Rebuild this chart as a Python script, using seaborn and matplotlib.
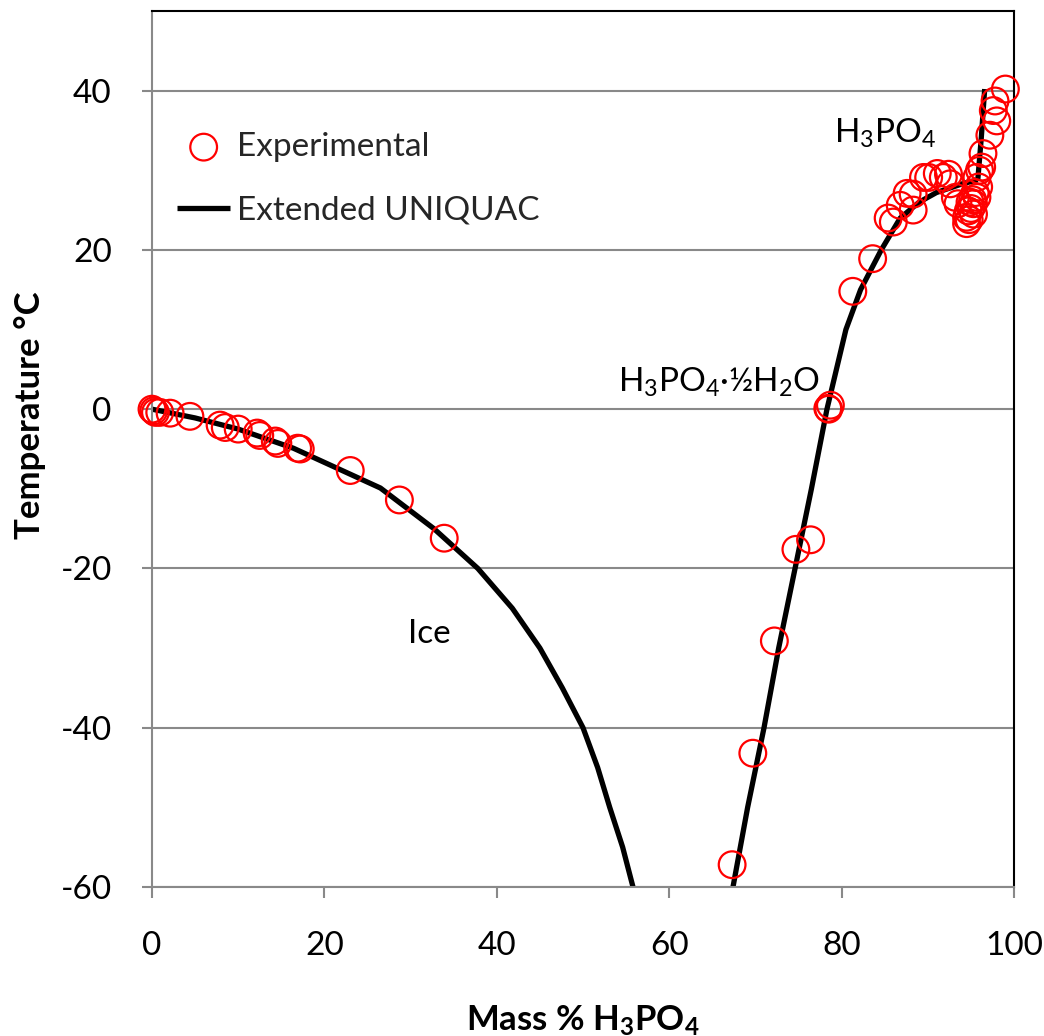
import matplotlib
matplotlib.use("Agg")
import matplotlib.pyplot as plt
import seaborn as sns
import pandas as pd

# ---------------- data ----------------
# Experimental points (mass % H3PO4, temperature °C)
exp_ice_x = [0.0, 0.2, 0.4, 0.9, 2.1, 4.4, 7.9, 8.5, 10.0, 12.2, 12.5, 14.3, 14.6, 16.9, 17.2, 23.0, 28.7, 33.9]
exp_ice_t = [0.0, -0.2, -0.4, -0.4, -0.5, -0.9, -2.0, -2.3, -2.5, -3.0, -3.3, -4.0, -4.3, -4.9, -5.0, -7.7, -11.4, -16.2]

exp_hemi_x = [67.3, 69.7, 72.2, 74.7, 76.4, 78.4, 78.7, 78.5, 81.3, 83.6, 85.4, 86.0, 86.8, 87.6,
              88.3, 88.3, 89.5, 90.1, 91.1, 91.8, 92.4, 92.6, 93.2, 93.5]
exp_hemi_t = [-57.2, -43.2, -29.1, -17.6, -16.4, 0.1, 0.5, 0.0, 14.8, 18.9, 24.0, 23.5, 25.6, 27.1,
              25.0, 27.0, 29.1, 29.1, 29.6, 29.1, 29.5, 28.3, 26.6, 25.8]

exp_h3po4_x = [94.5, 94.5, 94.7, 94.8, 94.9, 95.0, 95.2, 95.3, 95.3, 95.5, 95.7, 95.9, 95.7, 96.0,
               96.25, 96.4, 97.2, 98.0, 97.6, 97.8, 99.0]
exp_h3po4_t = [23.3, 24.1, 24.9, 23.8, 26.0, 25.2, 26.3, 24.5, 25.8, 27.2, 26.6, 27.9, 29.1, 30.0,
               30.4, 32.1, 34.4, 36.2, 37.5, 38.7, 40.2]

# Extended UNIQUAC model curves
ice_x = [0.0, 5.0, 10.0, 16.4, 26.5, 32.7, 37.8, 41.8, 45.0, 47.6, 50.0, 51.7, 53.1, 54.6, 55.8]
ice_t = [0.0, -1.1, -2.5, -4.9, -9.9, -15.0, -20.0, -25.0, -30.0, -35.0, -40.0, -45.0, -50.0, -55.0, -60.0]

hemi_x = [67.4, 69.1, 71.0, 72.7, 74.6, 76.5, 78.3, 80.5, 82.2, 84.6, 86.8, 89.0, 91.0, 94.0, 95.8]
hemi_t = [-60.0, -50.0, -40.0, -30.0, -20.0, -10.0, 0.0, 10.0, 15.0, 20.0, 24.0, 26.0, 27.2, 28.3, 28.8]

h3po4_x = [95.8, 96.2, 96.6]
h3po4_t = [28.8, 34.0, 40.2]

x_ticks = [0, 20, 40, 60, 80, 100]
y_ticks = [-60, -40, -20, 0, 20, 40]

# ---------------- style ----------------
sns.set_theme(style="white")
plt.rcParams["font.family"] = ["Lato", "DejaVu Sans"]
plt.rcParams["mathtext.default"] = "regular"

FS = 24
FS_LAB = 25
GRID = "#898989"

fig = plt.figure(figsize=(10.44, 10.36), dpi=100)
ax = fig.add_axes([152 / 1044, 1 - 887 / 1036, (1014 - 152) / 1044, (887 - 11) / 1036])

exp_df = pd.DataFrame({
    "x": exp_ice_x + exp_hemi_x + exp_h3po4_x,
    "t": exp_ice_t + exp_hemi_t + exp_h3po4_t,
})

for i, (lx, lt) in enumerate([(ice_x, ice_t), (hemi_x, hemi_t), (h3po4_x, h3po4_t)]):
    sns.lineplot(x=lx, y=lt, ax=ax, color="black", linewidth=3.8, sort=False,
                 estimator=None, label="Extended UNIQUAC" if i == 0 else None,
                 zorder=2, solid_capstyle="butt")

sns.scatterplot(data=exp_df, x="x", y="t", ax=ax, marker="o", s=370,
                facecolor="none", edgecolor="#ff0000", linewidth=1.6,
                label="Experimental", zorder=3, clip_on=False)

ax.set_xlim(0, 100)
ax.set_ylim(-60, 50)
ax.set_xticks(x_ticks)
ax.set_yticks(y_ticks)
ax.set_xticklabels([str(v) for v in x_ticks], fontsize=FS)
ax.set_yticklabels([str(v) for v in y_ticks], fontsize=FS)

ax.yaxis.grid(True, color=GRID, linewidth=1.5)
ax.xaxis.grid(False)
ax.set_axisbelow(True)

for side in ["left", "bottom"]:
    ax.spines[side].set_color(GRID)
    ax.spines[side].set_linewidth(1.5)
for side in ["top", "right"]:
    ax.spines[side].set_color("black")
    ax.spines[side].set_linewidth(1.5)

ax.tick_params(axis="x", direction="out", length=8, width=1.5, color=GRID, pad=24,
               bottom=True, labelcolor="black")
ax.tick_params(axis="y", direction="out", length=7, width=1.5, color=GRID, pad=22,
               left=True, labelcolor="black")

ax.set_xlabel("Mass % H$_3$PO$_4$", fontsize=FS_LAB, fontweight="bold", color="black")
ax.set_ylabel("Temperature °C", fontsize=FS_LAB, fontweight="bold", color="black")
ax.xaxis.set_label_coords(0.5, -0.133)
ax.yaxis.set_label_coords(-0.123, 0.539)

ax.text(32.2, -28.2, "Ice", fontsize=FS, ha="center", va="center", color="black")
ax.text(65.8, 3.4, "H$_3$PO$_4$·½H$_2$O", fontsize=FS, ha="center", va="center", color="black")
ax.text(85.0, 34.6, "H$_3$PO$_4$", fontsize=FS, ha="center", va="center", color="black")

handles, labels = ax.get_legend_handles_labels()
order = [labels.index("Experimental"), labels.index("Extended UNIQUAC")]
ax.legend([handles[i] for i in order], [labels[i] for i in order],
          loc="upper left", bbox_to_anchor=(0.029, 0.862), frameon=False,
          fontsize=FS, handlelength=1.6, handletextpad=0.21, labelspacing=1.0,
          borderpad=0, borderaxespad=0)

fig.savefig("out.png", dpi=100)
